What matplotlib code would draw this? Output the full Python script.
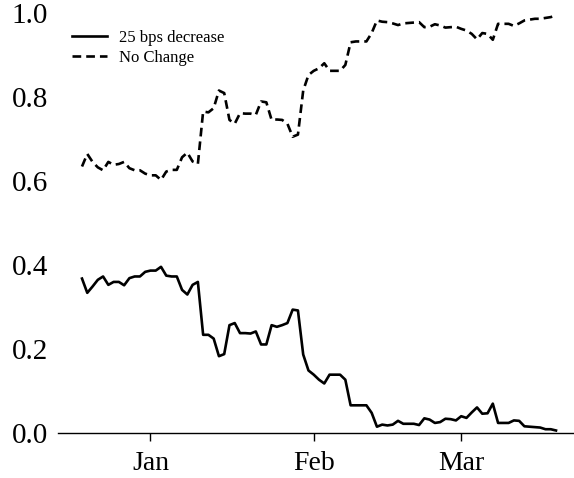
import numpy as np
import pandas as pd
import matplotlib
matplotlib.use("Agg")
import matplotlib.pyplot as plt
import matplotlib.dates as mdates

plt.rcParams['font.family'] = ['Liberation Serif', 'DejaVu Serif']

dates = pd.date_range('2018-12-19', '2019-03-19', freq='D')

cut_25 = [0.367, 0.333, 0.348, 0.364, 0.372, 0.352, 0.359, 0.359, 0.351, 0.368,
          0.372, 0.372, 0.383, 0.386, 0.386, 0.395, 0.374, 0.372, 0.372, 0.340,
          0.329, 0.352, 0.359, 0.233, 0.233, 0.224, 0.182, 0.187, 0.256, 0.261,
          0.237, 0.237, 0.236, 0.241, 0.210, 0.210, 0.256, 0.252, 0.256, 0.261,
          0.293, 0.291, 0.186, 0.148, 0.138, 0.126, 0.117, 0.138, 0.138, 0.138,
          0.126, 0.065, 0.065, 0.065, 0.065, 0.047, 0.014, 0.019, 0.017, 0.019,
          0.028, 0.021, 0.021, 0.021, 0.018, 0.034, 0.031, 0.023, 0.025, 0.033,
          0.032, 0.029, 0.039, 0.035, 0.048, 0.060, 0.045, 0.046, 0.069, 0.023,
          0.023, 0.023, 0.029, 0.028, 0.015, 0.014, 0.013, 0.012, 0.008, 0.008,
          0.005]

no_change = [0.634, 0.664, 0.645, 0.632, 0.625, 0.645, 0.638, 0.640, 0.645, 0.630,
             0.625, 0.625, 0.617, 0.613, 0.613, 0.602, 0.622, 0.626, 0.626, 0.656,
             0.667, 0.646, 0.640, 0.765, 0.763, 0.773, 0.815, 0.809, 0.745, 0.736,
             0.761, 0.760, 0.760, 0.757, 0.789, 0.787, 0.745, 0.746, 0.745, 0.736,
             0.705, 0.710, 0.815, 0.852, 0.862, 0.868, 0.880, 0.862, 0.862, 0.862,
             0.876, 0.930, 0.932, 0.932, 0.932, 0.952, 0.982, 0.979, 0.978, 0.975,
             0.971, 0.975, 0.976, 0.977, 0.978, 0.966, 0.967, 0.973, 0.970, 0.965,
             0.966, 0.967, 0.962, 0.958, 0.950, 0.937, 0.952, 0.950, 0.936, 0.974,
             0.974, 0.974, 0.969, 0.975, 0.982, 0.984, 0.986, 0.986, 0.988, 0.990,
             0.994]

fig = plt.figure(figsize=(5.74, 4.78), dpi=100)
ax = fig.add_axes([0.101, 0.095, 0.899, 0.878])

ax.plot(dates, cut_25, color='black', lw=1.9, label='25 bps decrease')
ax.plot(dates, no_change, color='black', lw=1.9, ls=(0, (3.3, 1.9)), label='No Change')

ax.set_ylim(0, 1.0)
ax.set_xlim(pd.Timestamp('2018-12-14 10:30'), pd.Timestamp('2019-03-22 10:00'))
ax.set_yticks([0.0, 0.2, 0.4, 0.6, 0.8, 1.0])
ax.yaxis.set_major_formatter(plt.FormatStrFormatter('%.1f'))
ax.xaxis.set_major_locator(mdates.MonthLocator())
ax.xaxis.set_major_formatter(mdates.DateFormatter('%b'))

for s in ['top', 'right', 'left']:
    ax.spines[s].set_visible(False)
ax.spines['bottom'].set_linewidth(1.0)
ax.tick_params(axis='y', length=0, labelsize=21, pad=7)
ax.tick_params(axis='x', length=6, width=1.0, labelsize=20, pad=7)

ax.legend(loc='upper left', frameon=False, fontsize=12, handlelength=2.1,
          handletextpad=0.75, borderaxespad=0.0, labelspacing=0.25,
          bbox_to_anchor=(0.014, 0.975))

fig.savefig('out.png', dpi=100)
